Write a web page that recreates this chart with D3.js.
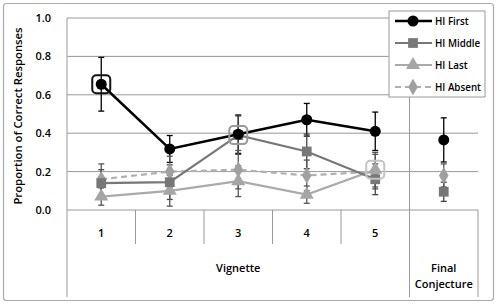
<!DOCTYPE html>
<html><head><meta charset="utf-8">
<script src="https://cdn.jsdelivr.net/npm/d3@7"></script>
<style>body{margin:0;background:#fff}text{font-family:"Open Sans",sans-serif;font-weight:600;fill:#000}</style>
</head><body><svg id="c" width="497" height="306"></svg>
<script>
const categories = ["1","2","3","4","5","Final"];
const seriesNames = ["HI First","HI Middle","HI Last","HI Absent"];
const hiFirst    = [0.655,0.318,0.395,0.470,0.410,0.365];
const hiFirstErr = [0.140,0.070,0.100,0.085,0.100,0.115];
const hiMiddle    = [0.140,0.145,0.390,0.305,0.160,0.095];
const hiMiddleErr = [0.070,0.090,0.100,0.090,0.080,0.050];
const hiLast    = [0.070,0.100,0.150,0.080,0.210,null];
const hiLastErr = [0.045,0.080,0.080,0.045,0.090,null];
const hiAbsent    = [0.160,0.200,0.210,0.180,0.200,0.180];
const hiAbsentErr = [0.080,0.080,0.100,0.080,0.090,0.060];
const yTicks = [0,0.2,0.4,0.6,0.8,1.0];
const highlights = [{s:0,i:0},{s:1,i:2},{s:2,i:4}];

const svg = d3.select("#c");
const x = d3.scaleBand().domain(categories).range([67,478]);
const y = d3.scaleLinear().domain([0,1]).range([210,18]);
const cx = c => x(c)+x.bandwidth()/2;

svg.append("rect").attr("x",3.5).attr("y",3.5).attr("width",490).attr("height",297).attr("rx",3)
  .attr("fill","#fff").attr("stroke","#aaa").attr("stroke-width",1.2);

svg.selectAll(".g").data(yTicks).join("line")
  .attr("x1",67).attr("x2",478).attr("y1",d=>y(d)).attr("y2",d=>y(d))
  .attr("stroke","#999").attr("stroke-width",1);

svg.selectAll(".yt").data(yTicks).join("text")
  .attr("x",51).attr("y",d=>y(d)+4).attr("text-anchor","end").attr("font-size",11)
  .text(d=>d3.format(".1f")(d));

svg.append("text").attr("transform","translate(22,116) rotate(-90)").attr("text-anchor","middle")
  .attr("font-size",11.3).text("Proportion of Correct Responses");

const axC="#999";
svg.append("line").attr("x1",67).attr("x2",67).attr("y1",18).attr("y2",297).attr("stroke",axC);
svg.append("line").attr("x1",478).attr("x2",478).attr("y1",210).attr("y2",297).attr("stroke",axC);
svg.append("line").attr("x1",x("Final")).attr("x2",x("Final")).attr("y1",18).attr("y2",297).attr("stroke",axC);
svg.selectAll(".sep").data(categories.slice(1,5)).join("line")
  .attr("x1",d=>x(d)).attr("x2",d=>x(d)).attr("y1",210).attr("y2",244).attr("stroke",axC);

svg.selectAll(".cl").data(categories.slice(0,5)).join("text")
  .attr("x",d=>cx(d)).attr("y",237).attr("text-anchor","middle").attr("font-size",11).text(d=>d);
svg.append("text").attr("x",(67+x("Final"))/2).attr("y",272).attr("text-anchor","middle").attr("font-size",11).text("Vignette");
svg.append("text").attr("x",cx("Final")).attr("y",272).attr("text-anchor","middle").attr("font-size",11).text("Final");
svg.append("text").attr("x",cx("Final")).attr("y",288).attr("text-anchor","middle").attr("font-size",11).text("Conjecture");

const series = [
  {name:seriesNames[0],v:hiFirst,e:hiFirstErr,color:"#000",mcolor:"#000",sym:d3.symbolCircle,size:95,dash:null,w:2.5,ecol:"#000"},
  {name:seriesNames[1],v:hiMiddle,e:hiMiddleErr,color:"#777",mcolor:"#777",sym:d3.symbolSquare,size:95,dash:null,w:2.2,ecol:"#444"},
  {name:seriesNames[2],v:hiLast,e:hiLastErr,color:"#aaa",mcolor:"#a5a5a5",sym:d3.symbolTriangle,size:85,dash:null,w:2.2,ecol:"#555"},
  {name:seriesNames[3],v:hiAbsent,e:hiAbsentErr,color:"#b0b0b0",mcolor:"#a0a0a0",sym:d3.symbolDiamond,size:80,dash:"6,4",w:2.2,ecol:"#555"}
];
const vigCats = categories.slice(0,5);

series.forEach(s=>{
  const pts = categories.map((c,i)=>({c,v:s.v[i],e:s.e[i]})).filter(d=>d.v!=null);
  const g = svg.append("g").attr("stroke",s.ecol).attr("stroke-width",1.3);
  pts.forEach(d=>{
    const X=cx(d.c);
    g.append("line").attr("x1",X).attr("x2",X).attr("y1",y(d.v+d.e)).attr("y2",y(Math.max(0,d.v-d.e)));
    g.append("line").attr("x1",X-3).attr("x2",X+3).attr("y1",y(d.v+d.e)).attr("y2",y(d.v+d.e));
    g.append("line").attr("x1",X-3).attr("x2",X+3).attr("y1",y(Math.max(0,d.v-d.e))).attr("y2",y(Math.max(0,d.v-d.e)));
  });
});

const line = d3.line().x(d=>cx(d.c)).y(d=>y(d.v));
[3,2,1,0].forEach(k=>{
  const s=series[k];
  const pts = vigCats.map((c,i)=>({c,v:s.v[i]}));
  svg.append("path").datum(pts).attr("d",line).attr("fill","none").attr("stroke",s.color)
    .attr("stroke-width",s.w).attr("stroke-dasharray",s.dash);
});
[3,2,1,0].forEach(k=>{
  const s=series[k];
  const pts = categories.map((c,i)=>({c,v:s.v[i]})).filter(d=>d.v!=null);
  svg.selectAll(null).data(pts).join("path")
    .attr("transform",d=>`translate(${cx(d.c)},${y(d.v)})`)
    .attr("d",d3.symbol().type(s.sym).size(s.size)).attr("fill",s.mcolor);
});

const hcol=["#111","#999","#c4c4c4"];
highlights.forEach((h,j)=>{
  const s=series[h.s];
  svg.append("rect").attr("x",cx(categories[h.i])-9).attr("y",y(s.v[h.i])-9).attr("width",18).attr("height",18)
    .attr("rx",4).attr("fill","none").attr("stroke",hcol[j]).attr("stroke-width",2);
});

const lg = svg.append("g");
lg.append("rect").attr("x",389).attr("y",11).attr("width",96).attr("height",86).attr("fill","#fff").attr("stroke","#999");
series.forEach((s,i)=>{
  const yy = 21+i*22;
  lg.append("line").attr("x1",395).attr("x2",432).attr("y1",yy).attr("y2",yy).attr("stroke",s.color)
    .attr("stroke-width",s.w).attr("stroke-dasharray",s.dash);
  lg.append("path").attr("transform",`translate(413,${yy})`).attr("d",d3.symbol().type(s.sym).size(s.size)).attr("fill",s.mcolor);
  lg.append("text").attr("x",435).attr("y",yy+3.5).attr("font-size",9.8).text(s.name);
});
</script></body></html>
